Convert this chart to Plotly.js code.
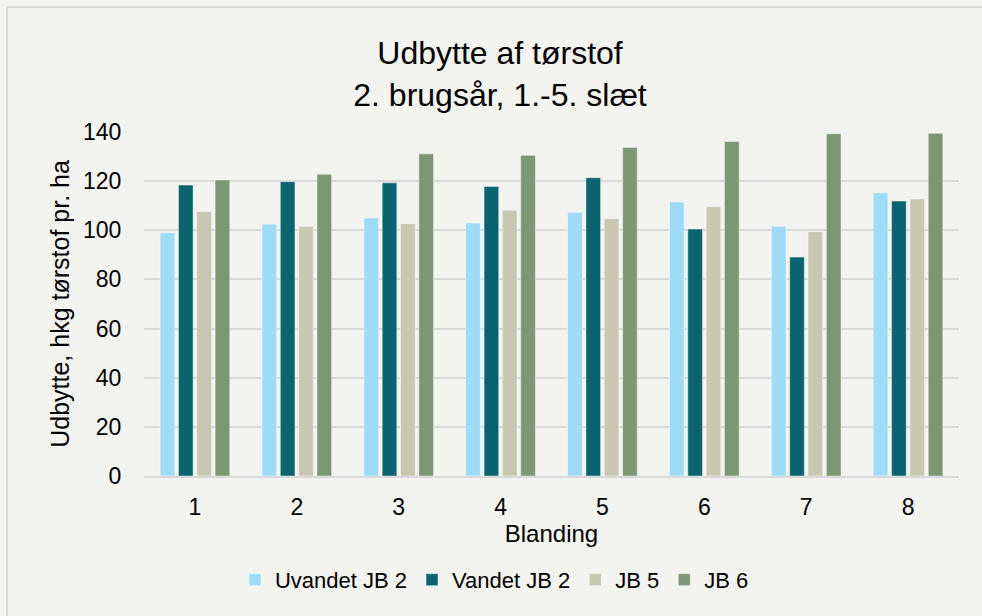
<!DOCTYPE html>
<html>
<head>
<meta charset="utf-8">
<script src="https://cdn.plot.ly/plotly-3.0.1.min.js"></script>
<style>
  html, body { margin: 0; background: #f3f3ef; overflow: hidden; }
  #chart { width: 982px; height: 616px; }
</style>
</head>
<body>
<div id="chart"></div>
<script>
// Blanding 1-8
const blandinger = ['1', '2', '3', '4', '5', '6', '7', '8'];

// Udbytte, hkg tørstof pr. ha
const uvandetJB2 = [99, 102.5, 105, 103, 107.3, 111.5, 101.6, 115.3];
const vandetJB2 = [118.4, 119.8, 119.3, 117.8, 121.4, 100.5, 89.1, 111.9];
const jb5 = [107.6, 101.6, 102.7, 108.2, 104.7, 109.6, 99.4, 112.7];
const jb6 = [120.5, 122.8, 131.1, 130.5, 133.7, 136.1, 139.3, 139.5];

const yTicks = [0, 20, 40, 60, 80, 100, 120, 140];

function barTrace(name, values, color) {
    return {
        type: 'bar',
        name: name,
        x: blandinger,
        y: values,
        marker: { color: color, line: { color: 'rgba(255,255,255,0.45)', width: 1 } },
        hoverinfo: 'name+y'
    };
}

const traces = [
    barTrace('Uvandet JB 2', uvandetJB2, '#9ddbf6'),
    barTrace('Vandet JB 2', vandetJB2, '#0a6470'),
    barTrace('JB 5', jb5, '#c8c7b1'),
    barTrace('JB 6', jb6, '#7d9775')
];

// plot area spans px 144..959 horizontally, 132..476 vertically
const pxToPaperX = px => (px - 144) / 815;
const pxToPaperY = py => (476 - py) / 344;

const layout = {
    width: 982,
    height: 616,
    paper_bgcolor: '#f3f3ef',
    plot_bgcolor: '#f3f3ef',
    font: { family: 'Liberation Sans, Arial, sans-serif', color: '#000' },
    margin: { l: 144, r: 23, t: 132, b: 140 },
    title: {
        text: 'Udbytte af tørstof<br>2. brugsår, 1.-5. slæt',
        font: { size: 32, color: '#000' },
        x: 500 / 982,
        xref: 'container',
        xanchor: 'center',
        y: 1 - 64 / 616,
        yanchor: 'middle'
    },
    barmode: 'group',
    bargap: 0.28,
    bargroupgap: 0.2,
    xaxis: {
        title: { text: 'Blanding', font: { size: 24 }, standoff: 4 },
        tickfont: { size: 23 },
        showline: true,
        linecolor: '#d9d9d9',
        linewidth: 2,
        ticks: 'outside',
        ticklen: 9,
        tickcolor: 'rgba(0,0,0,0)',
        showgrid: false
    },
    yaxis: {
        title: { text: 'Udbytte, hkg tørstof pr. ha', font: { size: 25 }, standoff: 6 },
        range: [0, 140],
        tickvals: yTicks,
        tickfont: { size: 23 },
        gridcolor: '#d9d9d9',
        gridwidth: 2,
        zeroline: false,
        ticks: 'outside',
        ticklen: 17,
        tickcolor: 'rgba(0,0,0,0)'
    },
    legend: {
        orientation: 'h',
        x: 0.43,
        xanchor: 'center',
        y: -0.302,
        yanchor: 'middle',
        font: { size: 22 },
        bgcolor: 'rgba(0,0,0,0)',
        itemwidth: 30,
        traceorder: 'normal'
    },
    // chart area frame (top and left edges visible)
    shapes: [
        { type: 'line', xref: 'paper', yref: 'paper', layer: 'above',
          x0: pxToPaperX(7), x1: pxToPaperX(990), y0: pxToPaperY(7), y1: pxToPaperY(7),
          line: { color: '#d9d9d9', width: 2 } },
        { type: 'line', xref: 'paper', yref: 'paper', layer: 'above',
          x0: pxToPaperX(7), x1: pxToPaperX(7), y0: pxToPaperY(7), y1: pxToPaperY(630),
          line: { color: '#d9d9d9', width: 2 } }
    ],
    showlegend: true
};

Plotly.newPlot('chart', traces, layout, { displayModeBar: false, staticPlot: true });
</script>
</body>
</html>
